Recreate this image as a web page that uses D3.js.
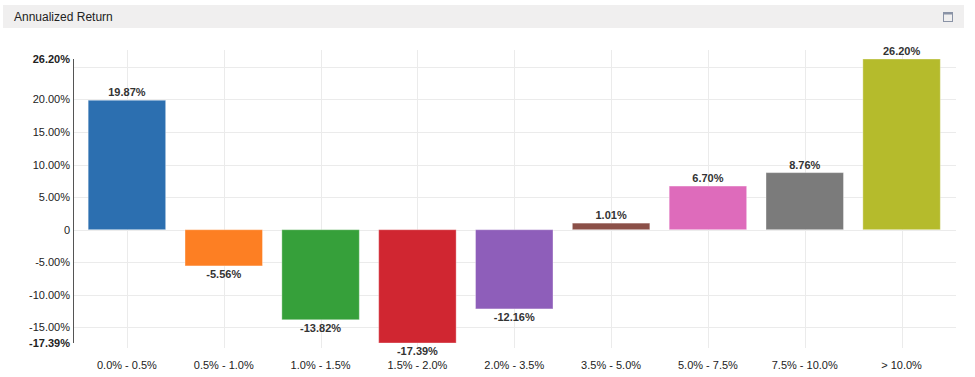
<!DOCTYPE html>
<html>
<head>
<meta charset="utf-8">
<script src="https://cdn.jsdelivr.net/npm/d3@7"></script>
<style>
  body { margin: 0; background: #fff; font-family: "Liberation Sans", Arial, sans-serif; }
</style>
</head>
<body>
<div id="chart"></div>
<script>
// Chart data
const categories = ["0.0% - 0.5%", "0.5% - 1.0%", "1.0% - 1.5%", "1.5% - 2.0%", "2.0% - 3.5%",
  "3.5% - 5.0%", "5.0% - 7.5%", "7.5% - 10.0%", "> 10.0%"];
const returns = [19.87, -5.56, -13.82, -17.39, -12.16, 1.01, 6.70, 8.76, 26.20];
const barColors = ["#2c6fb0", "#fd7f23", "#36a03a", "#d02631", "#8e5eba", "#8b5048", "#de6bbb", "#7b7b7b", "#b5bb2c"];
const gridTicks = [-15, -10, -5, 0, 5, 10, 15, 20, 25];
const labelTicks = [-15, -10, -5, 0, 5, 10, 15, 20];

const width = 975, height = 377;
const svg = d3.select("#chart").append("svg")
  .attr("width", width)
  .attr("height", height);

// Header bar
svg.append("rect")
  .attr("x", 3).attr("y", 5)
  .attr("width", 961).attr("height", 23)
  .attr("fill", "#f0efef");
svg.append("text")
  .attr("x", 14).attr("y", 21)
  .style("font-size", "12px")
  .style("fill", "#222")
  .text("Annualized Return");
// little window icon
svg.append("rect")
  .attr("x", 943.5).attr("y", 12.5)
  .attr("width", 9).attr("height", 9)
  .attr("fill", "none")
  .attr("stroke", "#8a93a6");
svg.append("rect")
  .attr("x", 943.5).attr("y", 12.5)
  .attr("width", 9).attr("height", 2)
  .attr("fill", "#8a93a6");

const minV = d3.min(returns), maxV = d3.max(returns);

const x = d3.scaleBand()
  .domain(categories)
  .range([78.5, 950])
  .paddingInner(0.2)
  .paddingOuter(0.1);

const y = d3.scaleLinear()
  .domain([minV, maxV])
  .range([343, 59]);

const axisX = 73;

// horizontal grid
svg.append("g").selectAll("line")
  .data(gridTicks)
  .join("line")
  .attr("x1", axisX).attr("x2", 956)
  .attr("y1", d => Math.round(y(d)) + 0.5)
  .attr("y2", d => Math.round(y(d)) + 0.5)
  .attr("stroke", "#ebebeb");

// vertical grid at category centers
svg.append("g").selectAll("line")
  .data(categories)
  .join("line")
  .attr("x1", d => Math.round(x(d) + x.bandwidth() / 2) + 0.5)
  .attr("x2", d => Math.round(x(d) + x.bandwidth() / 2) + 0.5)
  .attr("y1", 50).attr("y2", 348)
  .attr("stroke", "#ebebeb");

// bars
svg.append("g").selectAll("rect")
  .data(returns)
  .join("rect")
  .attr("x", (d, i) => x(categories[i]))
  .attr("width", x.bandwidth())
  .attr("y", d => y(Math.max(0, d)))
  .attr("height", d => Math.abs(y(d) - y(0)))
  .attr("fill", (d, i) => barColors[i])
  .attr("stroke", "#ffffff")
  .attr("stroke-opacity", 0.35)
  .attr("stroke-width", 1);

// value labels
svg.append("g").selectAll("text")
  .data(returns)
  .join("text")
  .attr("x", (d, i) => x(categories[i]) + x.bandwidth() / 2)
  .attr("y", d => d >= 0 ? y(d) - 4 : y(d) + 12)
  .attr("text-anchor", "middle")
  .style("font-size", "11px")
  .style("font-weight", "bold")
  .style("fill", "#333")
  .text(d => d.toFixed(2) + "%");

// y axis line
svg.append("line")
  .attr("x1", axisX + 0.5).attr("x2", axisX + 0.5)
  .attr("y1", y(maxV)).attr("y2", y(minV))
  .attr("stroke", "#555");

// y tick labels
const yLabels = svg.append("g")
  .attr("text-anchor", "end")
  .style("font-size", "11px")
  .style("fill", "#222");
yLabels.selectAll("text.tick")
  .data(labelTicks)
  .join("text")
  .attr("class", "tick")
  .attr("x", 70)
  .attr("y", d => y(d) + 4)
  .text(d => d === 0 ? "0" : d.toFixed(2) + "%");
yLabels.selectAll("text.ext")
  .data([maxV, minV])
  .join("text")
  .attr("class", "ext")
  .attr("x", 70)
  .attr("y", d => y(d) + 4)
  .style("font-weight", "bold")
  .text(d => d.toFixed(2) + "%");

// x labels
svg.append("g").selectAll("text")
  .data(categories)
  .join("text")
  .attr("x", d => x(d) + x.bandwidth() / 2)
  .attr("y", 369)
  .attr("text-anchor", "middle")
  .style("font-size", "11px")
  .style("fill", "#222")
  .text(d => d);
</script>
</body>
</html>
